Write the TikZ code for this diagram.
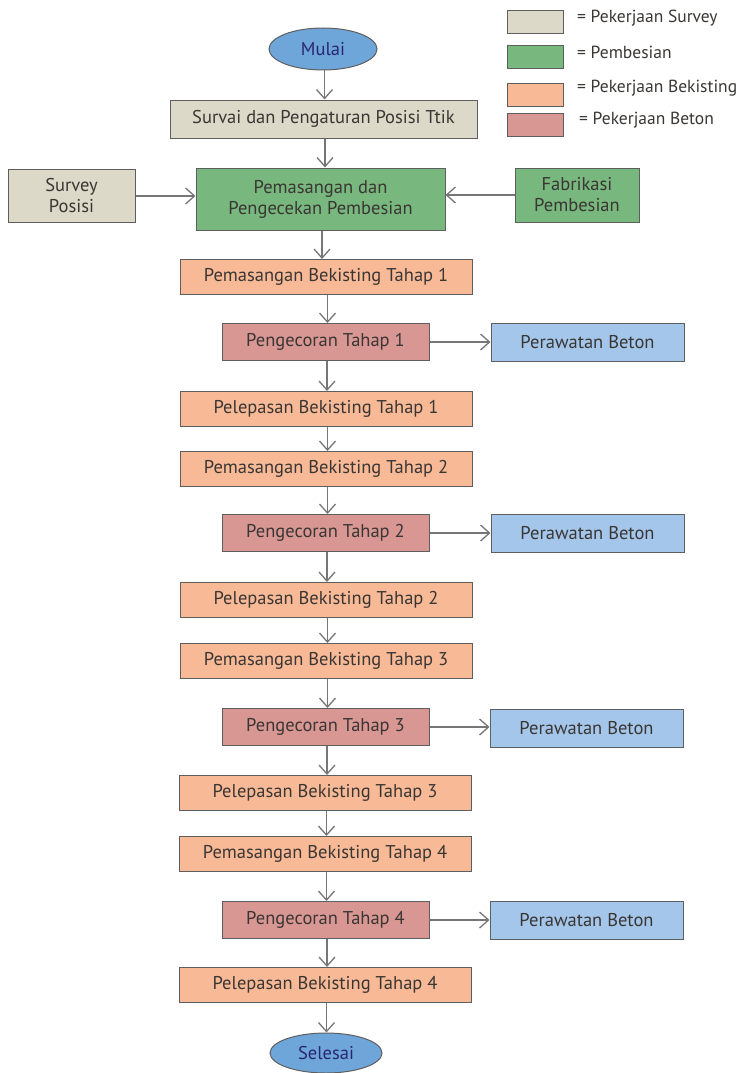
\documentclass[tikz,border=0pt]{standalone}
\usepackage{fontspec}
\setmainfont{PT Sans}
\usetikzlibrary{arrows.meta,shapes.geometric}
\definecolor{survey}{HTML}{DDD9C8}
\definecolor{besi}{HTML}{78B77D}
\definecolor{bek}{HTML}{F8B996}
\definecolor{beton}{HTML}{D99794}
\definecolor{rawat}{HTML}{A3C6EA}
\definecolor{oval}{HTML}{6FA6DA}
\definecolor{txt}{HTML}{3A3634}
\definecolor{edge}{HTML}{5E5E5E}
\begin{document}
\begin{tikzpicture}[x=1pt,y=-1pt,
  base/.style={draw=edge, line width=1pt, inner sep=0pt, align=center, text=txt,
    font=\fontsize{18.5}{21}\selectfont},
  surveybox/.style={base, fill=survey},
  besibox/.style={base, fill=besi},
  bekbox/.style={base, fill=bek, minimum width=292pt, minimum height=35pt},
  betonbox/.style={base, fill=beton, minimum width=207pt, minimum height=37pt},
  rawatbox/.style={base, fill=rawat, minimum width=193pt, minimum height=38pt},
  term/.style={base, ellipse, fill=oval, minimum width=108pt, minimum height=42pt, text=txt!70!blue},
  legbox/.style={draw=edge, line width=0.9pt, minimum width=56pt, minimum height=23pt, inner sep=0pt},
  legtext/.style={anchor=west, text=txt, inner sep=0pt, font=\fontsize{17.5}{20}\selectfont},
  arr/.style={draw=edge!85, line width=1.1pt, -{Straight Barb[length=9pt,width=16pt,line width=1.3pt]}}
]
\useasboundingbox (0,0) rectangle (755,1073);

% legend
\node[legbox, fill=survey] (l1) at (535,21.5) {};
\node[legbox, fill=besi] (l2) at (535,57) {};
\node[legbox, fill=bek] (l3) at (535,94.5) {};
\node[legbox, fill=beton] (l4) at (535,125) {};
\node[legtext] (t1) at (577,18) {= Pekerjaan Survey};
\node[legtext] (t2) at (577,52) {= Pembesian};
\node[legtext] (t3) at (577,88) {= Pekerjaan Bekisting};
\node[legtext] (t4) at (579,120) {= Pekerjaan Beton};

% main column
\node[term] (mulai) at (323,49) {Mulai};
\node[surveybox, minimum width=307pt, minimum height=38pt] (surv) at (323.5,119) {Survai dan Pengaturan Posisi Ttik};
\node[besibox, minimum width=249pt, minimum height=62pt] (pem) at (320.5,199) {Pemasangan dan\\Pengecekan Pembesian};
\node[surveybox, minimum width=127pt, minimum height=53pt] (pos) at (71.5,196) {Survey\\Posisi};
\node[besibox, minimum width=124pt, minimum height=54pt] (fab) at (577,195) {Fabrikasi\\Pembesian};

\node[bekbox] (b1) at (326,277) {Pemasangan Bekisting Tahap 1};
\node[betonbox] (c1) at (325.5,342) {Pengecoran Tahap 1};
\node[rawatbox] (r1) at (587.5,342) {Perawatan Beton};
\node[bekbox] (p1) at (326,409) {Pelepasan Bekisting Tahap 1};

\node[bekbox] (b2) at (326,469) {Pemasangan Bekisting Tahap 2};
\node[betonbox] (c2) at (325.5,533) {Pengecoran Tahap 2};
\node[rawatbox] (r2) at (587.5,533) {Perawatan Beton};
\node[bekbox] (p2) at (326,600) {Pelepasan Bekisting Tahap 2};

\node[bekbox] (b3) at (326,661) {Pemasangan Bekisting Tahap 3};
\node[betonbox] (c3) at (325.5,727) {Pengecoran Tahap 3};
\node[rawatbox] (r3) at (586.5,728) {Perawatan Beton};
\node[bekbox] (p3) at (325,793) {Pelepasan Bekisting Tahap 3};

\node[bekbox] (b4) at (325,854) {Pemasangan Bekisting Tahap 4};
\node[betonbox] (c4) at (325.5,920) {Pengecoran Tahap 4};
\node[rawatbox] (r4) at (586.5,920) {Perawatan Beton};
\node[bekbox] (p4) at (325,985) {Pelepasan Bekisting Tahap 4};
\node[term, minimum width=112pt, minimum height=40pt] (selesai) at (326,1053) {Selesai};

% connectors
\foreach \a/\b in {mulai/surv, surv/pem, pem/b1, b1/c1, c1/p1, p1/b2, b2/c2, c2/p2, p2/b3, b3/c3, c3/p3, p3/b4, b4/c4, c4/p4, p4/selesai}
  \draw[arr] ([xshift=1.5pt]\a.south) -- ([xshift=1.5pt]\a.south |- \b.north);
\draw[arr] (pos.east) -- (pos.east -| pem.west);
\draw[arr] (fab.west) -- (fab.west -| pem.east);
\foreach \i in {1,2,3,4}
  \draw[arr] (c\i.east) -- (c\i.east -| r\i.west);
\end{tikzpicture}
\end{document}
